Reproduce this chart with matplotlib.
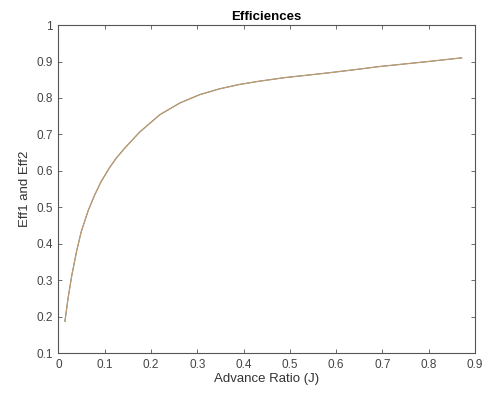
import numpy as np
import matplotlib.pyplot as plt

plt.rcParams['font.family'] = ['Liberation Sans', 'DejaVu Sans']

# values (both efficiencies lie on top of each other)
J = [0.014, 0.021, 0.029, 0.039, 0.049, 0.064, 0.078, 0.092, 0.110, 0.125,
     0.143, 0.176, 0.219, 0.262, 0.305, 0.348, 0.391, 0.434, 0.490, 0.541,
     0.584, 0.649, 0.692, 0.799, 0.871]
eff1 = [0.187, 0.252, 0.314, 0.378, 0.432, 0.490, 0.533, 0.570, 0.608, 0.635,
        0.662, 0.707, 0.754, 0.786, 0.809, 0.825, 0.837, 0.846, 0.856, 0.863,
        0.869, 0.879, 0.886, 0.900, 0.910]
eff2 = list(eff1)

fig = plt.figure(figsize=(4.89, 3.98), dpi=100)
ax = fig.add_axes([0.1195, 0.113, 0.852, 0.824])

# Eff1 is hidden under Eff2, as in the original
ax.plot(J, eff1, color='#0072BD', lw=0.6)
ax.plot(J, eff2, color='#c49a6c', lw=0.95)

ax.set_xlim(0, 0.9)
ax.set_ylim(0.1, 1)
ax.set_xticks(np.arange(0, 0.91, 0.1))
ax.set_yticks(np.arange(0.1, 1.01, 0.1))
ax.set_xticklabels(['0', '0.1', '0.2', '0.3', '0.4', '0.5', '0.6', '0.7', '0.8', '0.9'])
ax.set_yticklabels(['0.1', '0.2', '0.3', '0.4', '0.5', '0.6', '0.7', '0.8', '0.9', '1'])

ax.tick_params(direction='in', top=True, right=True, length=3, width=0.6,
               colors='#555555', labelsize=8.5, labelcolor='#444444', pad=4)
for s in ax.spines.values():
    s.set_color('#555555')
    s.set_linewidth(0.8)

ax.set_title('Efficiences', fontsize=9.5, fontweight='bold', pad=4)
ax.set_xlabel('Advance Ratio (J)', fontsize=9.5, color='#333333', labelpad=2)
ax.set_ylabel('Eff1 and Eff2', fontsize=9.5, color='#333333', labelpad=4)

fig.savefig('out.png', dpi=100)
